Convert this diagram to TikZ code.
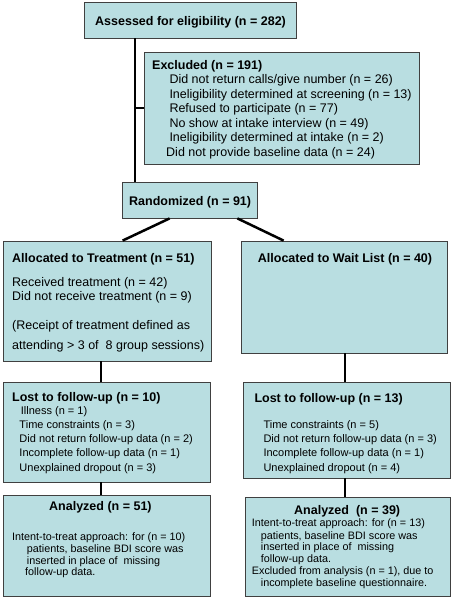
\documentclass[tikz,border=0pt]{standalone}
\usepackage{fontspec}
\setmainfont{Liberation Sans}
\usetikzlibrary{fit,shadows}
\definecolor{boxfill}{RGB}{185,222,225}
\begin{document}
\begin{tikzpicture}[x=1pt,y=-1pt,
  box/.style={draw=black!75, line width=0.8pt, fill=boxfill, inner sep=0pt,
    drop shadow={shadow xshift=0.8pt, shadow yshift=-0.8pt, fill=black!40}},
  conn/.style={draw=black, line width=2.5pt},
  hd/.style={anchor=base west, inner sep=0pt, font=\fontsize{12.5}{14.5}\selectfont\bfseries},
  tx/.style={anchor=base west, inner sep=0pt, font=\fontsize{12.5}{14.5}\selectfont},
  sm/.style={anchor=base west, inner sep=0pt, font=\fontsize{11}{13}\selectfont},
  xs/.style={anchor=base west, inner sep=0pt, font=\fontsize{10.8}{12}\selectfont}]
\useasboundingbox[fill=white] (0,0) rectangle (454,600);

% boxes
\node[box, fit={(84,2) (296,38)}] (assess) {};
\node[box, fit={(144,52) (419,164)}] (excl) {};
\node[box, fit={(122,182) (257,218)}] (rand) {};
\node[box, fit={(3,241) (211,361)}] (treat) {};
\node[box, fit={(241,241) (447,353)}] (wait) {};
\node[box, fit={(3,382) (210,482)}] (lostL) {};
\node[box, fit={(243,382) (450,478)}] (lostR) {};
\node[box, fit={(3,495) (210,596)}] (anaL) {};
\node[box, fit={(245,497) (450,596)}] (anaR) {};

% connectors
\coordinate (trunk) at (135,0);
\coordinate (lx) at (101,0);
\coordinate (rx) at (345,0);
\draw[conn] (assess.south -| trunk) -- (rand.north -| trunk);
\draw[conn] (trunk |- excl.west) -- (excl.west);
\draw[conn] ([xshift=48pt]rand.south west) -- ([xshift=120pt]treat.north west);
\draw[conn] ([xshift=-20pt]rand.south east) -- ([xshift=43pt]wait.north west);
\draw[conn] (treat.south -| lx) -- (lostL.north -| lx);
\draw[conn] (lostL.south -| lx) -- (anaL.north -| lx);
\draw[conn] (wait.south -| rx) -- (lostR.north -| rx);
\draw[conn] (lostR.south -| rx) -- (anaR.north -| rx);

% texts
\node[hd] (tAssess) at (95,25) {Assessed for eligibility (n = 282)};

\node[hd] (tExcl) at (152,69) {Excluded (n = 191)};
\node[tx] (tE1) at (169.3,83.3) {Did not return calls/give number (n = 26)};
\node[tx] (tE2) at (169.3,98) {Ineligibility determined at screening (n = 13)};
\node[tx] (tE3) at (169.3,112.5) {Refused to participate (n = 77)};
\node[tx] (tE4) at (169.3,127) {No show at intake interview (n = 49)};
\node[tx] (tE5) at (169.3,141.5) {Ineligibility determined at intake (n = 2)};
\node[tx] (tE6) at (166,156.5) {Did not provide baseline data (n = 24)};

\node[hd] (tRand) at (129,205) {Randomized (n = 91)};

\node[hd] (tTreat) at (12,262.3) {Allocated to Treatment (n = 51)};
\node[tx] (tT1) at (12,286) {Received treatment (n = 42)};
\node[tx] (tT2) at (12,300.3) {Did not receive treatment (n = 9)};
\node[tx] (tT3) at (12,329.3) {(Receipt of treatment defined as};
\node[tx] (tT4) at (12,349.3) {attending > 3 of\ \ 8 group sessions)};

\node[hd] (tWait) at (257.7,262.3) {Allocated to Wait List (n = 40)};

\node[hd] (tLostL) at (12,401) {Lost to follow-up (n = 10)};
\node[sm] (tL1) at (20.7,414.3) {Illness (n = 1)};
\node[sm] (tL2) at (19.3,428.3) {Time constraints (n = 3)};
\node[sm] (tL3) at (19.3,442.7) {Did not return follow-up data (n = 2)};
\node[sm] (tL4) at (19.3,456.7) {Incomplete follow-up data (n = 1)};
\node[sm] (tL5) at (19.3,471.3) {Unexplained dropout (n = 3)};

\node[hd] (tLostR) at (254.3,402.7) {Lost to follow-up (n = 13)};
\node[sm] (tR2) at (263.3,428.3) {Time constraints (n = 5)};
\node[sm] (tR3) at (263.3,442.7) {Did not return follow-up data (n = 3)};
\node[sm] (tR4) at (263.3,456.7) {Incomplete follow-up data (n = 1)};
\node[sm] (tR5) at (263.3,471.3) {Unexplained dropout (n = 4)};

\node[hd] (tAnaL) at (49,510.7) {Analyzed (n = 51)};
\node[xs] (tA1) at (12,540) {Intent-to-treat approach: for (n = 10)};
\node[xs] (tA2) at (26.7,552.3) {patients, baseline BDI score was};
\node[xs] (tA3) at (26.7,564) {inserted in place of\ \ missing};
\node[xs] (tA4) at (25,575.7) {follow-up data.};

\node[hd] (tAnaR) at (294,514.3) {Analyzed\ \ (n = 39)};
\node[xs] (tB1) at (251.7,526.7) {Intent-to-treat approach: for (n = 13)};
\node[xs] (tB2) at (260.7,539) {patients, baseline BDI score was};
\node[xs] (tB3) at (260.7,550.7) {inserted in place of\ \ missing};
\node[xs] (tB4) at (260.7,562.3) {follow-up data.};
\node[xs] (tB5) at (251.7,574.3) {Excluded from analysis (n = 1), due to};
\node[xs] (tB6) at (260.7,586.7) {incomplete baseline questionnaire.};
\end{tikzpicture}
\end{document}
